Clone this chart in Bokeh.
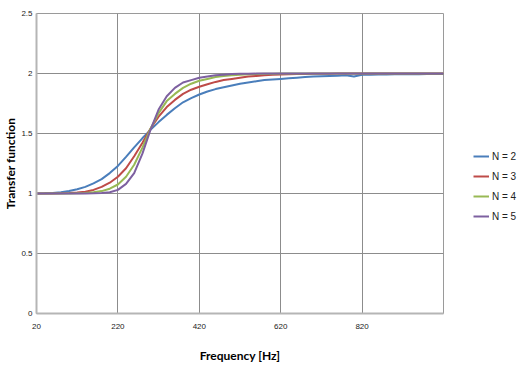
from bokeh.plotting import figure
from bokeh.layouts import row
from bokeh.models import Range1d, FixedTicker, Legend, LegendItem
from bokeh.embed import file_html
from bokeh.resources import INLINE

freq = list(range(20, 1021, 20))

n2 = [1.000, 1.002, 1.005, 1.010, 1.020, 1.035, 1.055, 1.085, 1.120, 1.170,
      1.230, 1.305, 1.385, 1.460, 1.530, 1.595, 1.655, 1.710, 1.760, 1.795,
      1.825, 1.850, 1.870, 1.885, 1.900, 1.915, 1.925, 1.935, 1.945, 1.950,
      1.955, 1.960, 1.965, 1.970, 1.975, 1.978, 1.980, 1.982, 1.985, 1.975,
      1.990, 1.990, 1.991, 1.992, 1.993, 1.993, 1.994, 1.994, 1.995, 1.995,
      1.995]
n3 = [1.000, 1.000, 1.001, 1.002, 1.004, 1.008, 1.015, 1.030, 1.055, 1.090,
      1.140, 1.210, 1.310, 1.420, 1.540, 1.640, 1.720, 1.780, 1.830, 1.865,
      1.890, 1.910, 1.930, 1.945, 1.955, 1.965, 1.975, 1.980, 1.985, 1.990,
      1.991, 1.993, 1.995, 1.996, 1.997, 1.998, 1.998, 1.999, 1.999, 1.999,
      2.000, 2.000, 2.000, 2.000, 2.000, 2.000, 2.000, 2.000, 2.000, 2.000,
      2.000]
n4 = [1.000, 1.000, 1.000, 1.000, 1.001, 1.002, 1.005, 1.010, 1.020, 1.040,
      1.075, 1.140, 1.240, 1.380, 1.540, 1.670, 1.770, 1.830, 1.880, 1.915,
      1.940, 1.955, 1.970, 1.980, 1.985, 1.990, 1.993, 1.995, 1.997, 1.998,
      1.999, 1.999, 2.000, 2.000, 2.000, 2.000, 2.000, 2.000, 2.000, 2.000,
      2.000, 2.000, 2.000, 2.000, 2.000, 2.000, 2.000, 2.000, 2.000, 2.000,
      2.000]
n5 = [1.000, 1.000, 1.000, 1.000, 1.000, 1.000, 1.001, 1.002, 1.005, 1.010,
      1.030, 1.080, 1.170, 1.330, 1.530, 1.700, 1.810, 1.880, 1.925, 1.945,
      1.965, 1.975, 1.985, 1.990, 1.995, 1.997, 1.998, 1.999, 2.000, 2.000,
      2.000, 2.000, 2.000, 2.000, 2.000, 2.000, 2.000, 2.000, 2.000, 2.000,
      2.000, 2.000, 2.000, 2.000, 2.000, 2.000, 2.000, 2.000, 2.000, 2.000,
      2.000]

series_names = ["N = 2", "N = 3", "N = 4", "N = 5"]
colors = ["#4A7EBB", "#BE4B48", "#98B954", "#7D60A0"]
x_ticks = [20, 220, 420, 620, 820]
y_ticks = [0, 0.5, 1, 1.5, 2, 2.5]
y_labels = ["0", "0.5", "1", "1.5", "2", "2.5"]

p = figure(width=448, height=372, output_backend="svg", toolbar_location=None,
           x_range=Range1d(20, 1020), y_range=Range1d(0, 2.5),
           min_border_left=36, min_border_right=5, min_border_top=13,
           min_border_bottom=59)

p.outline_line_color = "#9a9a9a"
p.outline_line_width = 1
p.background_fill_color = "white"

for ys, c in zip([n2, n3, n4, n5], colors):
    p.line(freq, ys, line_color=c, line_width=2)

p.xaxis.ticker = FixedTicker(ticks=x_ticks)
p.yaxis.ticker = FixedTicker(ticks=y_ticks)
p.yaxis.major_label_overrides = {t: l for t, l in zip(y_ticks, y_labels)}

for g in (p.xgrid, p.ygrid):
    g.grid_line_color = "#8c8c8c"
    g.grid_line_width = 1

for ax in (p.xaxis, p.yaxis):
    ax.axis_line_color = "#b5b5b5"
    ax.axis_line_width = 2
    ax.major_tick_line_color = None
    ax.minor_tick_line_color = None
    ax.major_tick_out = 0
    ax.major_tick_in = 0
    ax.major_label_text_font = "Liberation Sans"
    ax.major_label_text_font_size = "8px"
    ax.major_label_text_color = "#222222"
    ax.axis_label_text_font = "Lato"
    ax.axis_label_text_font_style = "bold"
    ax.axis_label_text_font_size = "12px"
    ax.axis_label_text_color = "#000000"

p.xaxis.axis_label = "Frequency [Hz]"
p.yaxis.axis_label = "Transfer function"
p.xaxis.major_label_text_align = "left"
p.xaxis.major_label_standoff = 10
p.xaxis.axis_label_standoff = 16
p.yaxis.major_label_standoff = 4
p.yaxis.axis_label_standoff = 0

# legend panel to the right of the chart (series drawn out of its view range,
# only their legend swatches show)
leg = figure(width=76, height=372, output_backend="svg", toolbar_location=None,
             x_range=Range1d(-2, -1), y_range=Range1d(-2, -1),
             min_border=0, outline_line_color=None)
leg.axis.visible = False
leg.grid.visible = False
swatches = [leg.line(freq, ys, line_color=c, line_width=2)
            for ys, c in zip([n2, n3, n4, n5], colors)]

legend = Legend(items=[LegendItem(label=n, renderers=[r]) for n, r in zip(series_names, swatches)],
                location=(25, 87), padding=0, margin=0, spacing=0,
                glyph_width=16, glyph_height=20, label_height=20, label_standoff=3,
                label_text_font="Liberation Sans", label_text_font_size="10px",
                label_text_color="#222222", border_line_color=None,
                background_fill_alpha=0)
leg.add_layout(legend)

layout = row(p, leg, spacing=0)
open("out.html", "w").write(file_html(layout, INLINE))
